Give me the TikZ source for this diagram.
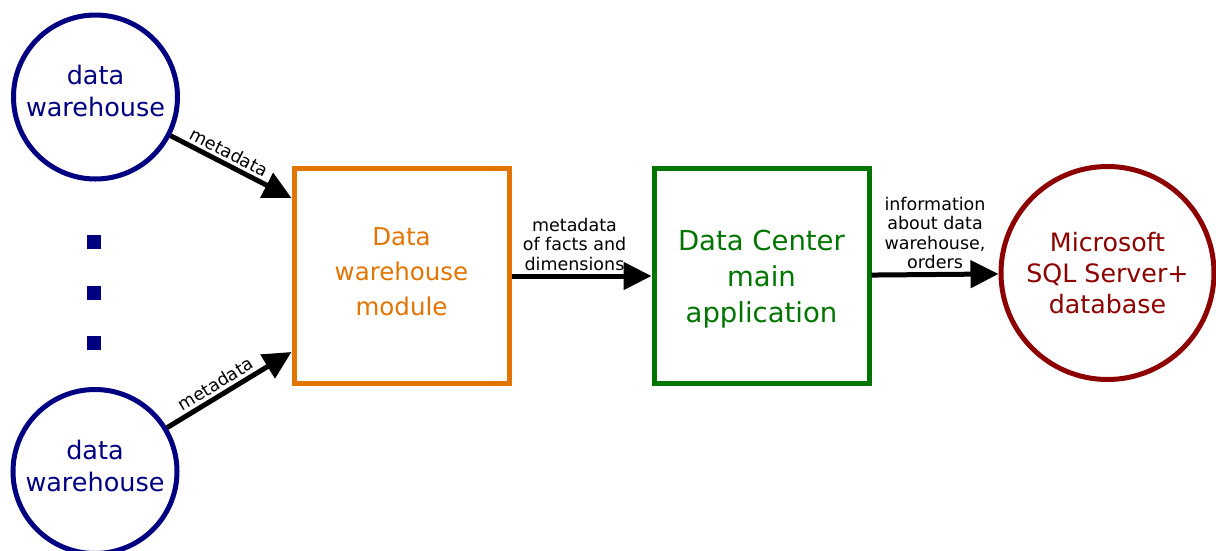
\documentclass[tikz,border=0pt]{standalone}
\usepackage{fontspec}
\setmainfont{DejaVu Sans}
\usetikzlibrary{arrows.meta}
\definecolor{whblue}{RGB}{0,0,128}
\definecolor{modorange}{RGB}{226,116,0}
\definecolor{appgreen}{RGB}{0,116,0}
\definecolor{sqlred}{RGB}{140,0,0}
\begin{document}
\begin{tikzpicture}[x=1pt, y=-1pt,
  whouse/.style={circle, draw=whblue, line width=5pt, minimum size=164pt, text=whblue, align=center, text depth=12pt, font=\fontsize{25.5}{32}\selectfont},
  dotsq/.style={rectangle, fill=whblue, minimum size=14pt, inner sep=0pt},
  modbox/.style={rectangle, draw=modorange, line width=5pt, minimum size=215pt, text=modorange, align=center, text depth=8pt, font=\fontsize{24.5}{35}\selectfont},
  appbox/.style={rectangle, draw=appgreen, line width=5pt, minimum size=215pt, text=appgreen, align=center, text depth=0pt, font=\fontsize{27.5}{36}\selectfont},
  sqldb/.style={circle, draw=sqlred, line width=5pt, minimum size=213pt, text=sqlred, align=center, font=\fontsize{25.3}{31}\selectfont},
  flow/.style={line width=5pt, -{Triangle[length=28pt,width=27pt]}},
  lbl/.style={font=\fontsize{17.5}{19.5}\selectfont, align=center, inner sep=3pt}
]
  \useasboundingbox (0,0) rectangle (1216,550);

  % sources
  \node[whouse] (dw1) at (95.5,97) {data\\warehouse};
  \node[whouse] (dw2) at (95,471.5) {data\\warehouse};
  \node[dotsq] (dot1) at (94,242) {};
  \node[dotsq] (dot2) at (94,293) {};
  \node[dotsq] (dot3) at (94,343) {};

  % processing
  \node[modbox] (dwm) at (401.5,276) {Data\\warehouse\\module};
  \node[appbox] (dca) at (761.5,276) {Data Center\\main\\application};
  \node[sqldb] (sql) at (1107.5,273) {Microsoft\\SQL Server+\\database};

  % flows
  \draw[flow] (dw1) -- node[lbl, sloped, above, pos=0.44]{metadata} ([yshift=-32pt]dwm.north west);
  \draw[flow] (dw2) -- node[lbl, sloped, above, pos=0.44]{metadata} ([yshift=34pt]dwm.south west);
  \draw[flow] (dwm) -- node[lbl, above, pos=0.45]{metadata\\of facts and\\dimensions} (dca);
  \draw[flow] (dca) -- node[lbl, above]{information\\about data\\warehouse,\\orders} (sql);
\end{tikzpicture}
\end{document}
